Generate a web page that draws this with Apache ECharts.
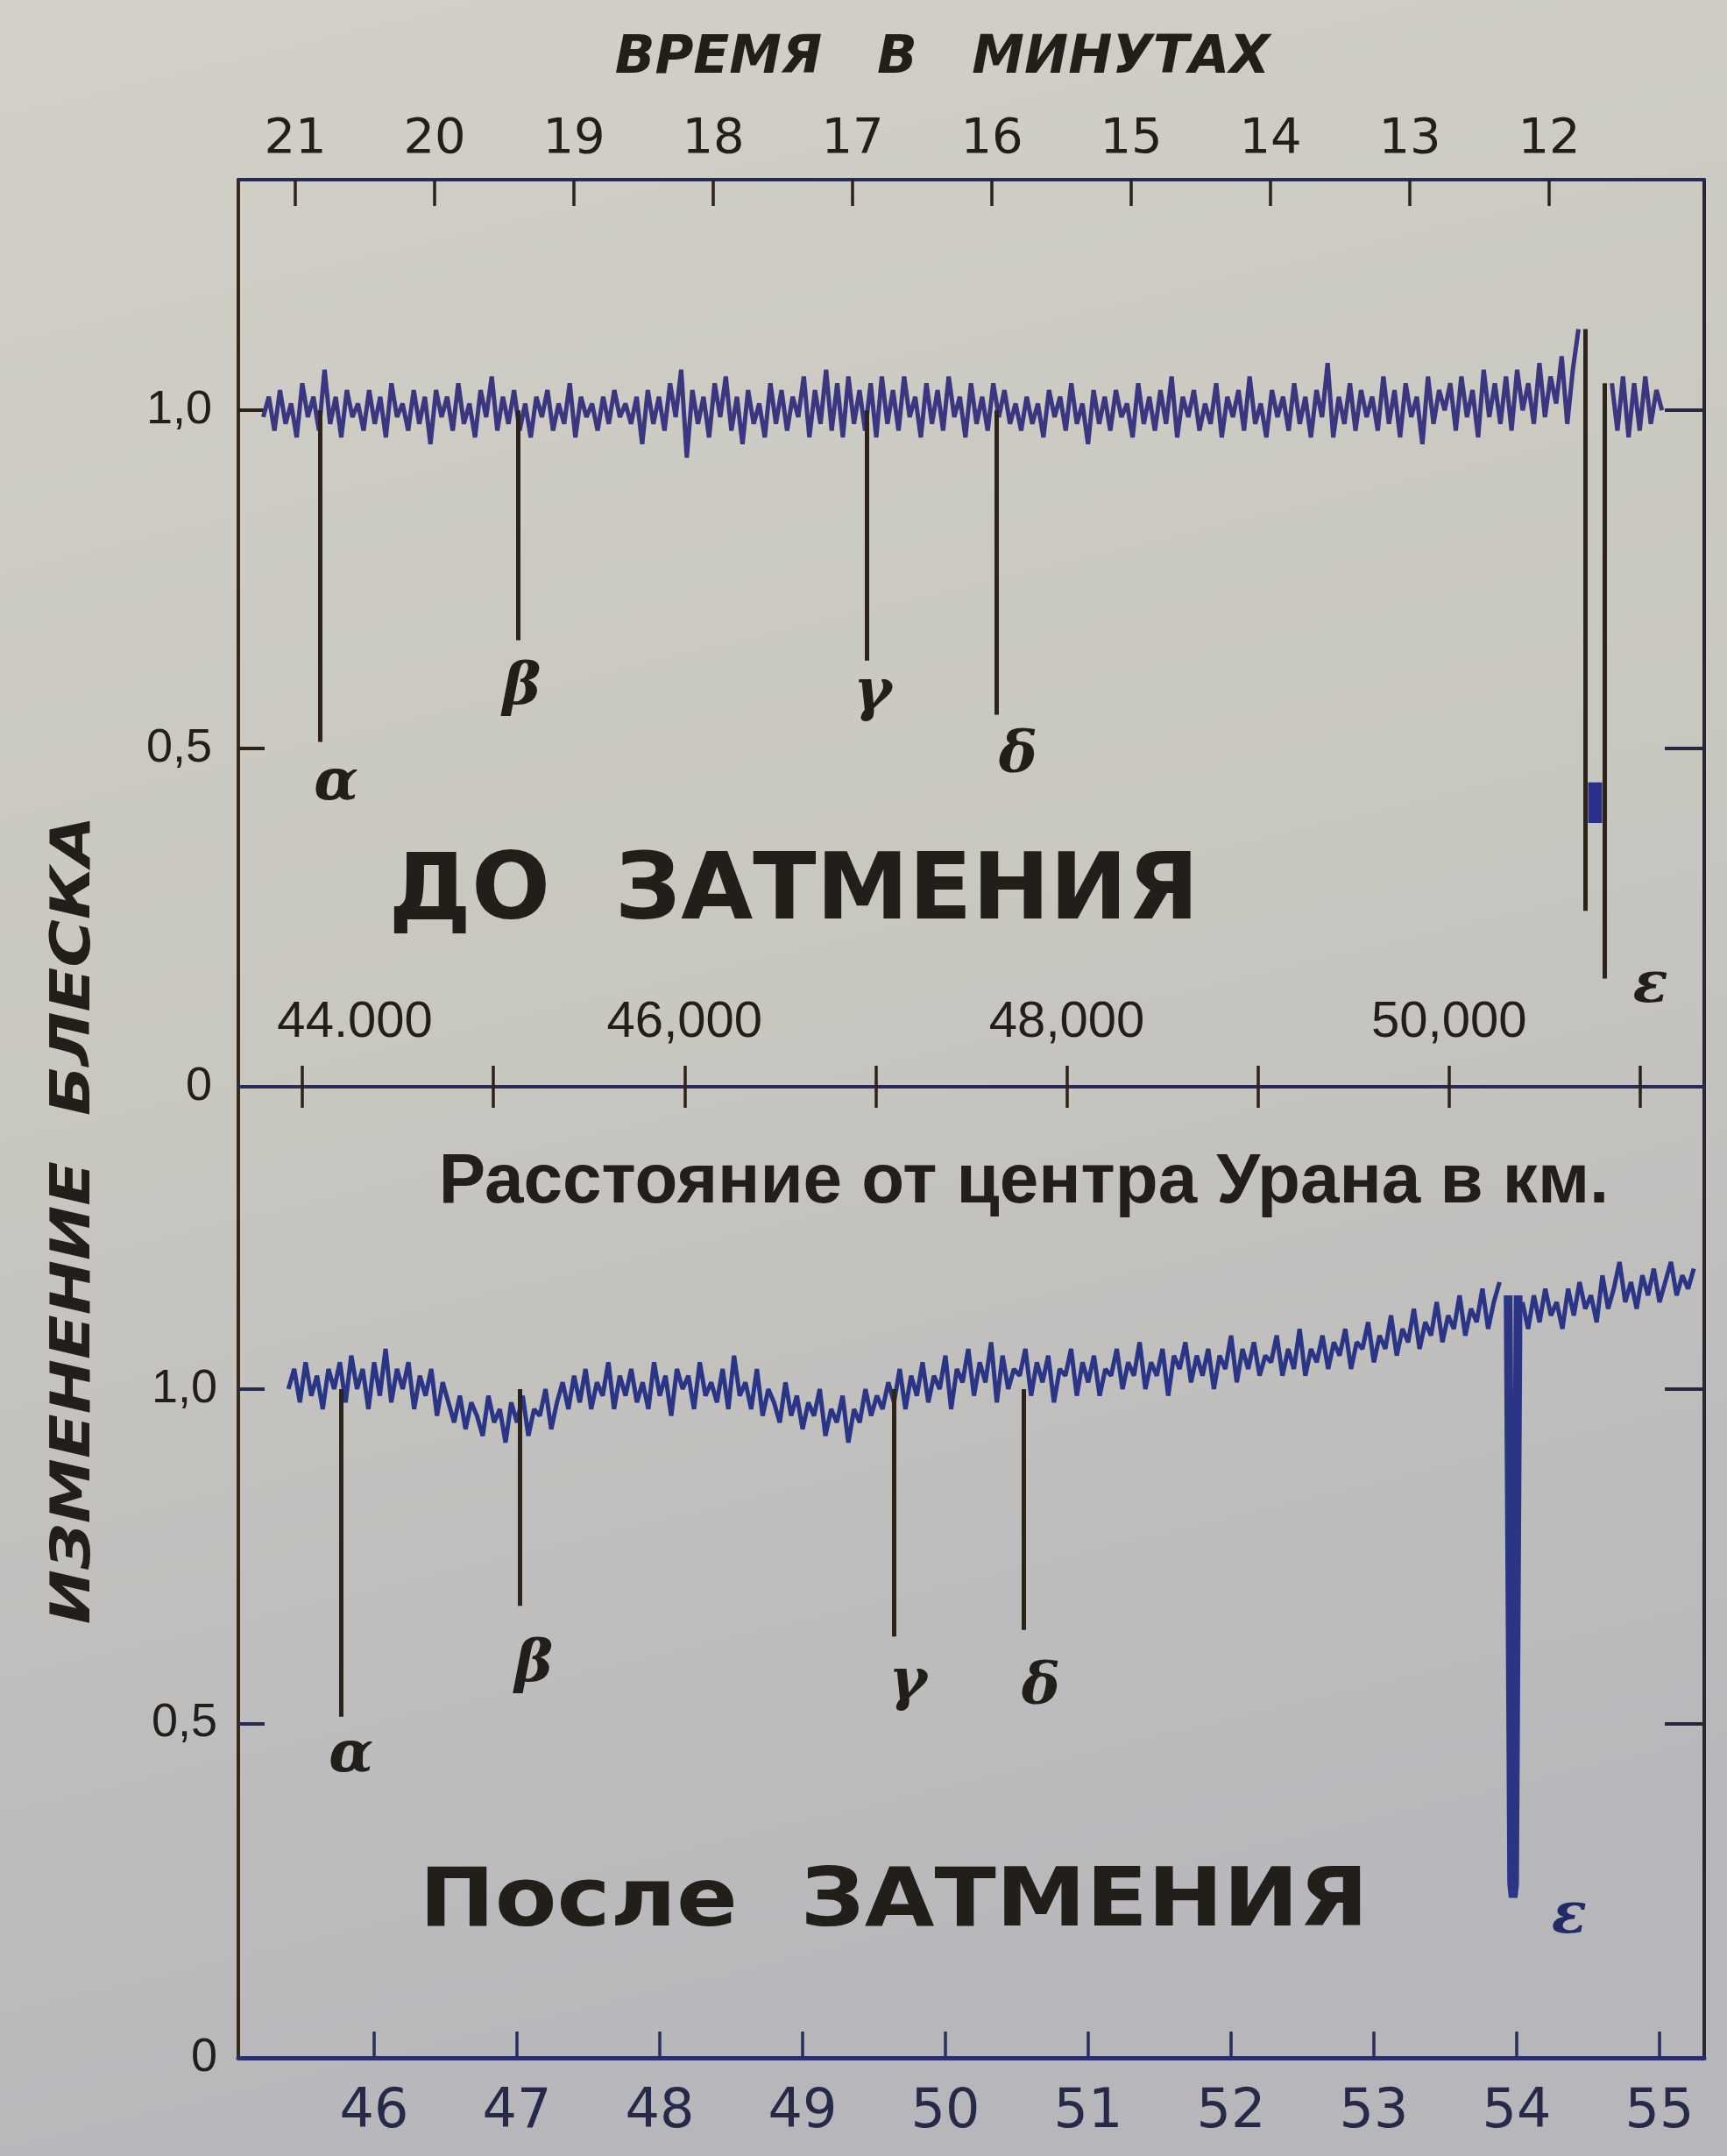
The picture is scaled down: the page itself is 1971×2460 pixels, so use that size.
<!DOCTYPE html>
<html><head><meta charset="utf-8">
<script src="https://cdn.jsdelivr.net/npm/echarts@6/dist/echarts.min.js"></script>
<style>html,body{margin:0;padding:0;background:#c9c8c0}#c{width:1971px;height:2460px}</style>
</head><body><div id="c"></div>
<script>
// ---------- tick values / labels ----------
const topTimeTicks = [21, 20, 19, 18, 17, 16, 15, 14, 13, 12];
const distTicks = [44000, 45000, 46000, 47000, 48000, 49000, 50000, 51000];
const distLabelVals = [44000, 46000, 48000, 50000];
const distLabelText = ['44.000', '46,000', '48,000', '50,000'];
const bottomTimeTicks = [46, 47, 48, 49, 50, 51, 52, 53, 54, 55];
const yTickVals = [0, 0.5, 1];
const yTickText = ['0', '0,5', '1,0'];

// ---------- upper panel (before occultation), time in minutes, sampled every 0.04 min ----------
const upperStart = 21.23, upperStep = -0.04;
const upperValues = [
 0.99,1.02,0.97,1.03,0.98,1.01,0.96,1.04,0.99,1.02,
 0.97,1.06,0.98,1.02,0.96,1.03,0.99,1.01,0.97,1.03,
 0.98,1.02,0.96,1.04,0.99,1.01,0.97,1.03,0.98,1.02,
 0.95,1.03,0.99,1.02,0.97,1.04,0.98,1.01,0.96,1.03,
 0.99,1.05,0.97,1.02,0.98,1.03,0.97,1.01,0.96,1.02,
 0.99,1.03,0.97,1.01,0.98,1.04,0.96,1.02,0.99,1.01,
 0.97,1.02,0.98,1.03,0.99,1.01,0.98,1.02,0.95,1.03,
 0.98,1.02,0.97,1.04,0.99,1.06,0.93,1.03,0.98,1.02,
 0.96,1.04,0.99,1.05,0.97,1.02,0.95,1.03,0.98,1.01,
 0.96,1.04,0.98,1.03,0.97,1.02,0.99,1.05,0.96,1.03,
 0.98,1.06,0.97,1.04,0.96,1.05,0.98,1.03,0.97,1.04,
 0.96,1.05,0.98,1.03,0.97,1.05,0.99,1.02,0.96,1.04,
 0.98,1.03,0.97,1.05,0.99,1.02,0.96,1.04,0.98,1.02,
 0.97,1.04,0.99,1.03,0.98,1.01,0.97,1.02,0.98,1.01,
 0.96,1.03,0.99,1.02,0.97,1.04,0.98,1.01,0.95,1.03,
 0.98,1.02,0.97,1.03,0.99,1.01,0.96,1.04,0.98,1.02,
 0.97,1.03,0.98,1.05,0.96,1.02,0.99,1.03,0.97,1.01,
 0.98,1.04,0.96,1.02,0.99,1.03,0.97,1.05,0.98,1.01,
 0.96,1.03,0.99,1.02,0.97,1.04,0.98,1.02,0.96,1.03,
 0.99,1.07,0.96,1.02,0.98,1.04,0.97,1.03,0.99,1.02,
 0.97,1.05,0.98,1.03,0.96,1.04,0.99,1.02,0.95,1.05,
 0.98,1.03,1.00,1.04,0.97,1.05,0.99,1.03,0.96,1.06,
 0.99,1.04,0.98,1.05,0.97,1.06,1.00,1.04,0.98,1.07,
 0.99,1.05,1.01,1.08,0.98,1.06,1.12
];
const upperTailStart = 11.55;
const upperTailValues = [1.04,0.97,1.05,0.96,1.04,0.97,1.05,0.98,1.03,1.00];
const upperEpsBlob = [[11.67, 0.45], [11.67, 0.39]];

const upperRingTimes  = [20.82, 19.40, 16.90, 15.97, 11.74, 11.60];
const upperRingTops   = [1.00, 1.00, 1.00, 1.00, 1.12, 1.04];
const upperRingDepths = [0.51, 0.66, 0.63, 0.55, 0.26, 0.16];
const upperRingNames  = ['α', 'β', 'γ', 'δ', '', 'ε'];

// ---------- lower panel (after occultation), time in minutes, sampled every 0.04 min ----------
const lowerStart = 45.40, lowerStep = 0.04;
const lowerValues = [
 1.00,1.03,0.98,1.04,0.99,1.02,0.97,1.03,1.00,1.04,
 0.98,1.05,1.00,1.03,0.97,1.04,0.99,1.06,0.98,1.03,
 1.00,1.04,0.97,1.02,0.99,1.03,0.96,1.01,0.98,0.95,
 0.99,0.94,0.98,0.96,0.93,0.99,0.95,0.97,0.92,0.98,
 0.95,0.99,0.93,0.97,0.96,1.00,0.94,0.98,1.01,0.97,
 1.02,0.98,1.03,0.97,1.01,0.99,1.04,0.97,1.02,0.99,
 1.03,0.98,1.01,0.97,1.04,0.99,1.02,0.96,1.03,1.00,
 1.02,0.97,1.04,0.99,1.01,0.98,1.03,0.97,1.05,0.99,
 1.01,0.97,1.03,0.96,1.00,0.98,0.95,1.01,0.96,0.99,
 0.94,0.98,0.96,1.00,0.93,0.97,0.95,0.99,0.92,0.97,
 0.95,1.00,0.96,0.99,0.97,1.01,0.98,1.03,0.97,1.02,
 0.99,1.04,0.98,1.02,1.00,1.05,0.97,1.03,1.01,1.06,
 0.99,1.04,1.01,1.07,0.98,1.05,1.00,1.03,1.02,1.06,
 0.99,1.04,1.01,1.05,0.98,1.03,1.02,1.06,0.99,1.04,
 1.01,1.05,0.99,1.03,1.02,1.06,1.00,1.04,1.02,1.07,
 1.00,1.04,1.02,1.06,0.99,1.05,1.03,1.07,1.01,1.05,
 1.02,1.06,1.00,1.05,1.03,1.08,1.01,1.06,1.03,1.07,
 1.02,1.05,1.04,1.08,1.02,1.06,1.03,1.09,1.02,1.06,
 1.04,1.08,1.03,1.07,1.05,1.09,1.03,1.07,1.06,1.10,
 1.04,1.08,1.06,1.11,1.05,1.09,1.07,1.12,1.06,1.10,
 1.08,1.13,1.07,1.11,1.09,1.14,1.08,1.12,1.10,1.15,
 1.09,1.13,1.16
];
const lowerEpsDip = [[53.94, 1.14], [53.965, 0.26], [53.975, 0.24], [53.985, 0.26], [54.01, 1.14]];
const lowerTailStart = 54.04;
const lowerTailValues = [
 1.13,1.09,1.14,1.10,1.15,1.11,1.13,1.09,1.15,1.11,
 1.16,1.12,1.14,1.10,1.17,1.12,1.15,1.19,1.13,1.16,
 1.12,1.17,1.14,1.18,1.13,1.16,1.19,1.14,1.17,1.15,1.18
];
const lowerRingTimes  = [45.77, 47.02, 49.64, 50.55];
const lowerRingDepths = [0.51, 0.676, 0.63, 0.64];
const lowerRingNames  = ['α', 'β', 'γ', 'δ'];
const lowerEpsLabel = [53.975, 0.24, 'ε'];

// ---------- styling ----------
const ink = '#221e1a', brown = '#2e2318', navy = '#2a2a58', traceUp = '#3a3780', traceLow = '#2b3586';
const upperLabelOffsets = [[18, 48], [4, 55], [7, 38], [25, 48], [0, 0], [52, 9]];
const lowerLabelOffsets = [[11, 45], [16, 69], [16, 54], [19, 67]];
const epsLowerOffset = [64, 23];
const greekFont = {fontFamily: 'DejaVu Serif', fontStyle: 'italic', fontWeight: 'bold', fontSize: 66, color: ink, opacity: 1};

const seq = (start, step, vals) => vals.map((v, i) => [+(start + step * i).toFixed(3), v]);
const yFmt = v => { const k = yTickVals.indexOf(v); return k < 0 ? '' : yTickText[k]; };
const distFmt = v => { const k = distLabelVals.indexOf(v); if (k < 0) return ''; return k === 0 ? '{first|' + distLabelText[k] + '}' : distLabelText[k]; };

const chart = echarts.init(document.getElementById('c'), null, {renderer: 'canvas'});
const option = {
  animation: false,
  backgroundColor: {type: 'linear', x: 0, y: 0, x2: 0.3, y2: 1, colorStops: [
    {offset: 0, color: '#d2d0c7'}, {offset: 0.5, color: '#c8c7c0'}, {offset: 1, color: '#b7b6bb'}]},
  grid: [
    {left: 272, right: 26, top: 205, height: 1035},
    {left: 272, right: 26, top: 1240, height: 1108}
  ],
  xAxis: [
    {gridIndex: 0, type: 'value', position: 'top', inverse: true, min: 10.887, max: 21.409,
      axisLine: {show: true, onZero: false, lineStyle: {color: navy, width: 4}},
      axisTick: {show: true, inside: true, length: 30, customValues: topTimeTicks, lineStyle: {color: brown, width: 3.5}},
      axisLabel: {show: true, customValues: topTimeTicks, margin: 18, fontSize: 56, color: ink, fontFamily: 'DejaVu Sans'},
      splitLine: {show: false},
      name: 'ВРЕМЯ   В   МИНУТАХ', nameLocation: 'middle', nameGap: 108,
      nameTextStyle: {fontSize: 60, fontWeight: 'bold', fontStyle: 'italic', color: ink, fontFamily: 'DejaVu Sans', padding: [0, 66, 0, 0]}},
    {gridIndex: 0, type: 'value', position: 'bottom', min: 43665, max: 51335,
      axisLine: {show: true, onZero: false, lineStyle: {color: navy, width: 4}},
      axisTick: {show: true, inside: false, length: 24, customValues: distTicks, lineStyle: {color: brown, width: 3.5}},
      axisLabel: {show: true, inside: true, customValues: distLabelVals, formatter: distFmt, margin: 44, fontSize: 58, color: ink, fontFamily: 'Liberation Sans',
        rich: {first: {fontSize: 58, color: ink, fontFamily: 'Liberation Sans', padding: [0, 0, 0, 120]}}},
      splitLine: {show: false},
      name: 'Расстояние от центра Урана в км.', nameLocation: 'middle', nameGap: 70,
      nameTextStyle: {fontSize: 80, fontWeight: 'bold', color: ink, fontFamily: 'Liberation Sans', padding: [0, 0, 0, 120]}},
    {gridIndex: 1, type: 'value', position: 'top', min: 43665, max: 51335,
      axisLine: {show: false, onZero: false},
      axisTick: {show: true, inside: false, length: 24, customValues: distTicks, lineStyle: {color: brown, width: 3.5}},
      axisLabel: {show: false}, splitLine: {show: false}},
    {gridIndex: 1, type: 'value', position: 'bottom', min: 45.049, max: 55.313,
      axisLine: {show: true, onZero: false, lineStyle: {color: '#2a2e6c', width: 5}},
      axisTick: {show: true, inside: true, length: 30, customValues: bottomTimeTicks, lineStyle: {color: '#2a2e5c', width: 3.5}},
      axisLabel: {show: true, customValues: bottomTimeTicks, margin: 32, fontSize: 62, color: '#262a48', fontFamily: 'DejaVu Sans'},
      splitLine: {show: false}}
  ],
  yAxis: [
    {gridIndex: 0, type: 'value', position: 'left', min: 0, max: 1.341,
      axisLine: {show: true, onZero: false, lineStyle: {color: '#3a2a1a', width: 4}},
      axisTick: {show: true, inside: true, length: 30, customValues: [0.5, 1], lineStyle: {color: brown, width: 4}},
      axisLabel: {show: true, customValues: yTickVals, formatter: yFmt, margin: 30, fontSize: 54, color: ink, fontFamily: 'Liberation Sans'},
      splitLine: {show: false}},
    {gridIndex: 0, type: 'value', position: 'right', min: 0, max: 1.341,
      axisLine: {show: true, onZero: false, lineStyle: {color: '#2a2530', width: 4}},
      axisTick: {show: true, inside: true, length: 45, customValues: [0.5, 1], lineStyle: {color: '#2a2840', width: 4}},
      axisLabel: {show: false}, splitLine: {show: false}},
    {gridIndex: 1, type: 'value', position: 'left', min: 0, max: 1.452,
      axisLine: {show: true, onZero: false, lineStyle: {color: '#3a2a1a', width: 4}},
      axisTick: {show: true, inside: true, length: 30, customValues: [0.5, 1], lineStyle: {color: '#2a2a50', width: 4}},
      axisLabel: {show: true, customValues: yTickVals, formatter: yFmt, margin: 24, fontSize: 54, color: ink, fontFamily: 'Liberation Sans'},
      splitLine: {show: false}},
    {gridIndex: 1, type: 'value', position: 'right', min: 0, max: 1.452,
      axisLine: {show: true, onZero: false, lineStyle: {color: '#2a2530', width: 4}},
      axisTick: {show: true, inside: true, length: 45, customValues: [0.5, 1], lineStyle: {color: '#2a2840', width: 4}},
      axisLabel: {show: false}, splitLine: {show: false}}
  ],
  series: [
    {type: 'line', xAxisIndex: 0, yAxisIndex: 0, data: seq(upperStart, upperStep, upperValues), symbol: 'none',
      lineStyle: {color: traceUp, width: 5}, z: 3},
    {type: 'line', xAxisIndex: 0, yAxisIndex: 0, data: seq(upperTailStart, upperStep, upperTailValues), symbol: 'none',
      lineStyle: {color: traceUp, width: 5}, z: 3},
    {type: 'line', xAxisIndex: 0, yAxisIndex: 0, data: upperEpsBlob, symbol: 'none',
      lineStyle: {color: '#2a2f8a', width: 16}, z: 4},
    {type: 'lines', coordinateSystem: 'cartesian2d', xAxisIndex: 0, yAxisIndex: 0, polyline: false,
      data: upperRingTimes.map((t, i) => ({coords: [[t, upperRingTops[i]], [t, upperRingDepths[i]]]})),
      lineStyle: {color: brown, width: 5, opacity: 1}, z: 4},
    {type: 'scatter', xAxisIndex: 0, yAxisIndex: 0, symbolSize: 0.5, itemStyle: {color: ink, opacity: 1},
      data: upperRingTimes.map((t, i) => ({value: [t, upperRingDepths[i]], name: upperRingNames[i],
        label: {offset: upperLabelOffsets[i]}})),
      label: Object.assign({show: true, position: 'inside', formatter: p => p.name}, greekFont), z: 5},
    {type: 'line', xAxisIndex: 3, yAxisIndex: 2, data: seq(lowerStart, lowerStep, lowerValues), symbol: 'none',
      lineStyle: {color: traceLow, width: 5}, z: 3},
    {type: 'line', xAxisIndex: 3, yAxisIndex: 2, data: lowerEpsDip, symbol: 'none',
      lineStyle: {color: traceLow, width: 10, join: 'bevel'}, z: 3},
    {type: 'line', xAxisIndex: 3, yAxisIndex: 2, data: seq(lowerTailStart, lowerStep, lowerTailValues), symbol: 'none',
      lineStyle: {color: traceLow, width: 5}, z: 3},
    {type: 'lines', coordinateSystem: 'cartesian2d', xAxisIndex: 3, yAxisIndex: 2, polyline: false,
      data: lowerRingTimes.map((t, i) => ({coords: [[t, 1.0], [t, lowerRingDepths[i]]]})),
      lineStyle: {color: brown, width: 5, opacity: 1}, z: 4},
    {type: 'scatter', xAxisIndex: 3, yAxisIndex: 2, symbolSize: 0.5, itemStyle: {color: ink, opacity: 1},
      data: lowerRingTimes.map((t, i) => ({value: [t, lowerRingDepths[i]], name: lowerRingNames[i],
        label: {offset: lowerLabelOffsets[i]}})).concat([{value: [lowerEpsLabel[0], lowerEpsLabel[1]], name: lowerEpsLabel[2],
        label: {offset: epsLowerOffset, color: '#232a66'}}]),
      label: Object.assign({show: true, position: 'inside', formatter: p => p.name}, greekFont), z: 5}
  ],
  graphic: [
    {type: 'text', x: 86, y: 1392, rotation: Math.PI / 2, scaleX: 1.2,
      style: {text: 'ИЗМЕНЕНИЕ  БЛЕСКА', font: 'italic bold 62px "DejaVu Sans"', fill: ink, align: 'center', verticalAlign: 'middle'}},
    {type: 'text', x: 906, y: 1020,
      style: {text: 'ДО  ЗАТМЕНИЯ', font: 'bold 106px "DejaVu Sans"', fill: ink, align: 'center', verticalAlign: 'middle'}},
    {type: 'text', x: 1020, y: 2173, scaleX: 1.12,
      style: {text: 'После  ЗАТМЕНИЯ', font: 'bold 92px "DejaVu Sans"', fill: ink, align: 'center', verticalAlign: 'middle'}}
  ]
};
chart.setOption(option);
</script>
</body></html>
